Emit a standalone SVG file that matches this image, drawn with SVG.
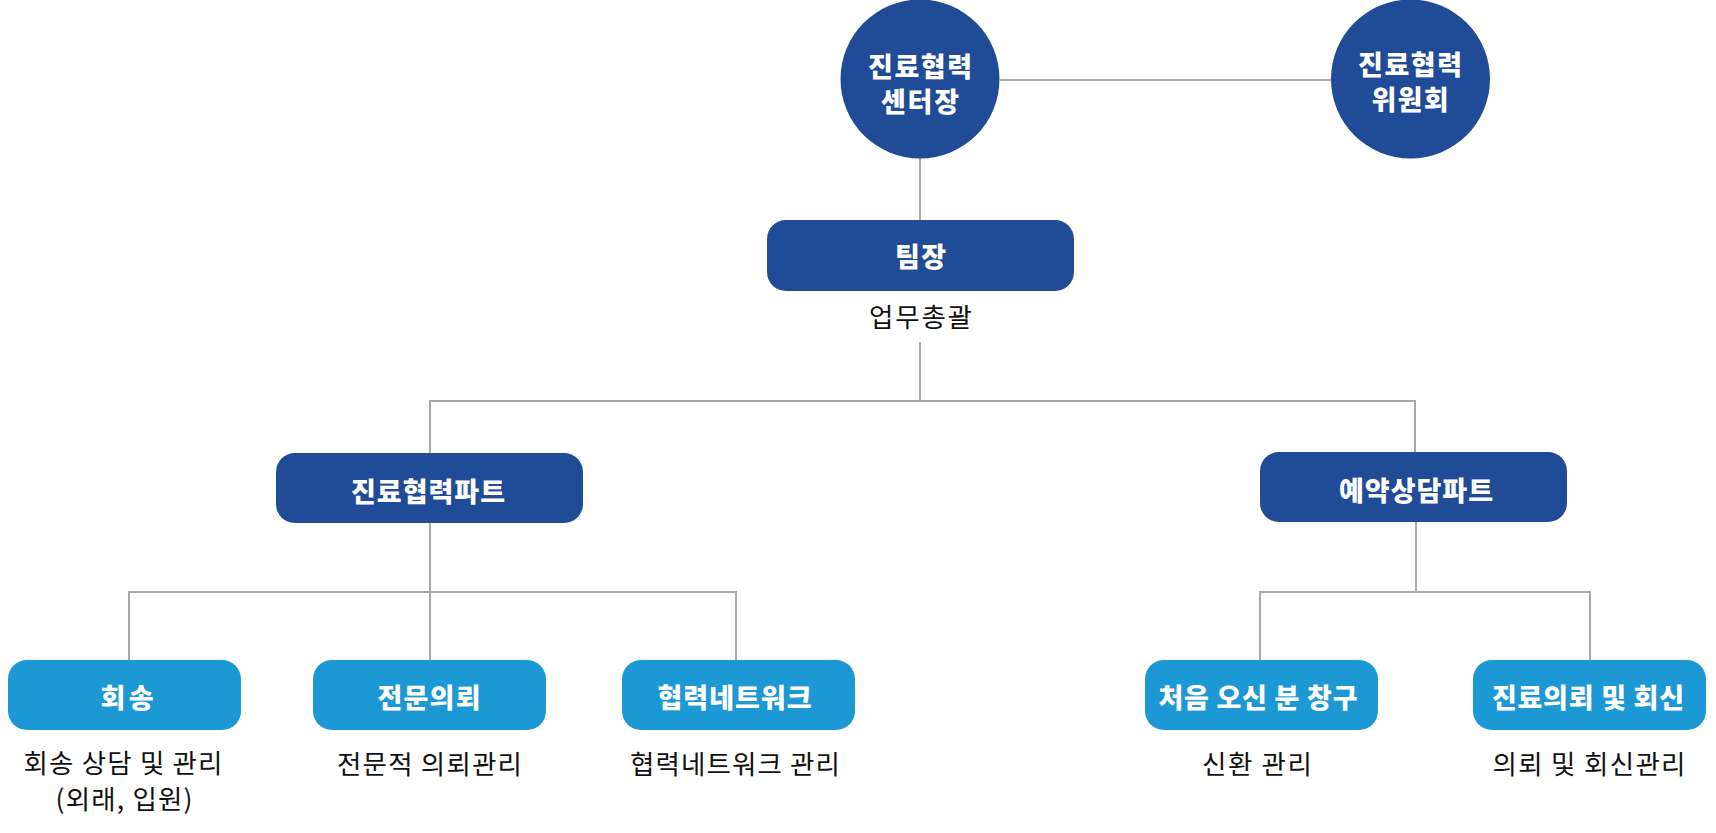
<svg xmlns="http://www.w3.org/2000/svg" width="1716" height="833" viewBox="0 0 1716 833">
<style>
.dk{fill:#1f4b97}
.lt{fill:#1c98d5}
.bt{font-family:"Noto Sans CJK KR","Noto Sans",sans-serif;font-weight:900;font-size:27px;fill:#ffffff;text-anchor:middle}
.dt{font-family:"Noto Sans CJK KR","Noto Sans",sans-serif;font-weight:400;font-size:26.5px;fill:#111111;text-anchor:middle}
.ln{stroke:#a8a8a8;stroke-width:2;fill:none}
</style>
<rect x="0" y="0" width="1716" height="833" fill="#ffffff"/>
<g id="connectors" class="ln">
<line x1="1000" y1="80" x2="1331" y2="80"/>
<line x1="920" y1="158" x2="920" y2="220"/>
<polyline points="920,342 920,401"/>
<polyline points="430,453 430,401 1415,401 1415,452"/>
<line x1="430" y1="523" x2="430" y2="592"/>
<polyline points="129,660 129,592 736,592 736,660"/>
<line x1="430" y1="592" x2="430" y2="660"/>
<line x1="1416" y1="521" x2="1416" y2="592"/>
<polyline points="1260,660 1260,592 1590,592 1590,660"/>
</g>
<g id="node-center">
<circle class="dk" cx="920" cy="79" r="79.5"/>
<text class="bt"><tspan x="920" y="77" textLength="104">진료협력</tspan><tspan x="920" y="112" textLength="78">센터장</tspan></text>
</g>
<g id="node-committee">
<circle class="dk" cx="1410.5" cy="79" r="79.5"/>
<text class="bt"><tspan x="1410" y="75" textLength="104">진료협력</tspan><tspan x="1410" y="110" textLength="77">위원회</tspan></text>
</g>
<g id="node-teamlead">
<rect class="dk" x="767" y="220" width="307" height="71" rx="19"/>
<text class="bt" x="920.5" y="267" textLength="51">팀장</text>
<text class="dt" x="920.5" y="327" textLength="103">업무총괄</text>
</g>
<g id="node-part1">
<rect class="dk" x="276" y="453" width="307" height="70" rx="19"/>
<text class="bt" x="428" y="502" textLength="154">진료협력파트</text>
</g>
<g id="node-part2">
<rect class="dk" x="1260" y="452" width="307" height="70" rx="19"/>
<text class="bt" x="1416" y="501" textLength="154">예약상담파트</text>
</g>
<g id="node-return">
<rect class="lt" x="8" y="660" width="233" height="70" rx="19"/>
<text class="bt" x="127" y="708" textLength="53">회송</text>
<text class="dt"><tspan x="123" y="773" textLength="199">회송 상담 및 관리</tspan><tspan x="124" y="809" textLength="137">(외래, 입원)</tspan></text>
</g>
<g id="node-referral">
<rect class="lt" x="313" y="660" width="233" height="70" rx="19"/>
<text class="bt" x="429" y="708" textLength="103">전문의뢰</text>
<text class="dt" x="429.5" y="774" textLength="185">전문적 의뢰관리</text>
</g>
<g id="node-network">
<rect class="lt" x="622" y="660" width="233" height="70" rx="19"/>
<text class="bt" x="734.5" y="708" textLength="154">협력네트워크</text>
<text class="dt" x="735" y="774" textLength="210">협력네트워크 관리</text>
</g>
<g id="node-firstvisit">
<rect class="lt" x="1145" y="660" width="233" height="70" rx="19"/>
<text class="bt" x="1258" y="708" textLength="199">처음 오신 분 창구</text>
<text class="dt" x="1257" y="774" textLength="110">신환 관리</text>
</g>
<g id="node-reply">
<rect class="lt" x="1473" y="660" width="233" height="70" rx="19"/>
<text class="bt" x="1588" y="708" textLength="192">진료의뢰 및 회신</text>
<text class="dt" x="1589" y="774" textLength="193">의뢰 및 회신관리</text>
</g>
</svg>
